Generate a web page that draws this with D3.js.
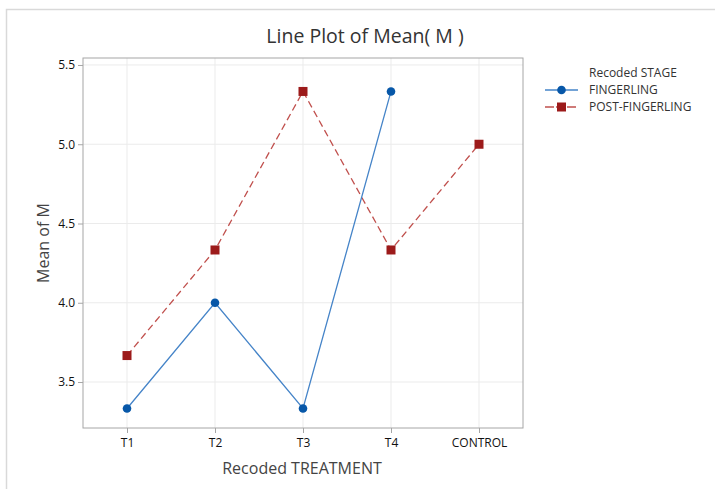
<!DOCTYPE html>
<html>
<head>
<meta charset="utf-8">
<script src="https://cdn.jsdelivr.net/npm/d3@7"></script>
<style>
  body { margin: 0; background: #fff; }
  text { font-family: "Open Sans", "Noto Sans", sans-serif; }
</style>
</head>
<body>
<div id="chart"></div>
<script>
const treatments = ['T1', 'T2', 'T3', 'T4', 'CONTROL'];
const yTicks = [3.5, 4.0, 4.5, 5.0, 5.5];
const fingerling = [3.333, 4.0, 3.333, 5.333, null];
const postFingerling = [3.667, 4.333, 5.333, 4.333, 5.0];

const width = 715, height = 489;
const margin = { top: 58, right: 192, bottom: 61, left: 83 };

const svg = d3.select('#chart').append('svg')
  .attr('width', width)
  .attr('height', height);

// outer frame
svg.append('path')
  .attr('d', `M6.5,${height}V9.5H${width}`)
  .attr('fill', 'none')
  .attr('stroke', '#d9d9d9')
  .attr('stroke-width', 1.5);

const x = d3.scalePoint()
  .domain(treatments)
  .range([margin.left, width - margin.right])
  .padding(0.5);

const y = d3.scaleLinear()
  .domain([3.21, 5.544])
  .range([height - margin.bottom, margin.top]);

const g = svg.append('g');

// grid
g.selectAll('.hgrid').data(yTicks).join('line')
  .attr('x1', margin.left).attr('x2', width - margin.right)
  .attr('y1', d => y(d)).attr('y2', d => y(d))
  .attr('stroke', '#ebebeb').attr('stroke-width', 1);
g.selectAll('.vgrid').data(treatments).join('line')
  .attr('y1', margin.top).attr('y2', height - margin.bottom)
  .attr('x1', d => x(d)).attr('x2', d => x(d))
  .attr('stroke', '#ebebeb').attr('stroke-width', 1);

// frame of the plot area
g.append('rect')
  .attr('x', margin.left).attr('y', margin.top)
  .attr('width', width - margin.left - margin.right)
  .attr('height', height - margin.top - margin.bottom)
  .attr('fill', 'none').attr('stroke', '#a6a6a6');

// axes
const xAxis = svg.append('g')
  .attr('transform', `translate(0,${height - margin.bottom})`)
  .call(d3.axisBottom(x).tickSize(5).tickPadding(5));
const yAxis = svg.append('g')
  .attr('transform', `translate(${margin.left},0)`)
  .call(d3.axisLeft(y).tickValues(yTicks).tickFormat(d3.format('.1f')).tickSize(5).tickPadding(3));
[xAxis, yAxis].forEach(a => {
  a.select('.domain').remove();
  a.selectAll('line').attr('stroke', '#a6a6a6');
  a.selectAll('text').attr('fill', '#111').style('font-size', '12px')
    .style('font-weight', 500)
    .style('font-family', '"Open Sans", "Noto Sans", sans-serif');
});

// series
const line = d3.line()
  .x(d => x(d[0]))
  .y(d => y(d[1]));

const fData = treatments.map((t, i) => [t, fingerling[i]]).filter(d => d[1] != null);
const pData = treatments.map((t, i) => [t, postFingerling[i]]);

g.append('path').datum(pData)
  .attr('d', line)
  .attr('fill', 'none')
  .attr('stroke', '#c0504d')
  .attr('stroke-width', 1.3)
  .attr('stroke-dasharray', '7,4');
g.append('path').datum(fData)
  .attr('d', line)
  .attr('fill', 'none')
  .attr('stroke', '#4584c8')
  .attr('stroke-width', 1.3);

g.selectAll('.fdot').data(fData).join('circle')
  .attr('cx', d => x(d[0])).attr('cy', d => y(d[1]))
  .attr('r', 4.3).attr('fill', '#0757a8');
g.selectAll('.pdot').data(pData).join('rect')
  .attr('x', d => x(d[0]) - 4.5).attr('y', d => y(d[1]) - 4.5)
  .attr('width', 9).attr('height', 9).attr('fill', '#9c1a1a');

// title and axis labels
svg.append('text')
  .attr('x', 365).attr('y', 43)
  .attr('text-anchor', 'middle')
  .attr('fill', '#333')
  .style('font-size', '19.5px')
  .text('Line Plot of Mean( M )');
svg.append('text')
  .attr('x', 302).attr('y', 474)
  .attr('text-anchor', 'middle')
  .attr('fill', '#444')
  .style('font-size', '16px')
  .text('Recoded TREATMENT');
svg.append('text')
  .attr('transform', `translate(49,${(margin.top + height - margin.bottom) / 2}) rotate(-90)`)
  .attr('text-anchor', 'middle')
  .attr('fill', '#444')
  .style('font-size', '16px')
  .text('Mean of M');

// legend
const legend = svg.append('g').attr('transform', 'translate(545,0)');
legend.append('text').attr('x', 44).attr('y', 77)
  .attr('fill', '#333').style('font-size', '12px').text('Recoded STAGE');
const items = [
  { name: 'FINGERLING', color: '#4584c8', mark: '#0757a8', shape: 'circle', dash: null },
  { name: 'POST-FINGERLING', color: '#c0504d', mark: '#9c1a1a', shape: 'square', dash: '9,2' }
];
items.forEach((it, i) => {
  const yy = 90 + i * 17;
  legend.append('line').attr('x1', 0).attr('x2', 33).attr('y1', yy).attr('y2', yy)
    .attr('stroke', it.color).attr('stroke-width', 1.3)
    .attr('stroke-dasharray', it.dash);
  if (it.shape === 'circle') {
    legend.append('circle').attr('cx', 16.5).attr('cy', yy).attr('r', 4.3).attr('fill', it.mark);
  } else {
    legend.append('rect').attr('x', 12).attr('y', yy - 4.5).attr('width', 9).attr('height', 9).attr('fill', it.mark);
  }
  legend.append('text').attr('x', 44).attr('y', yy + 4)
    .attr('fill', '#333').style('font-size', '12px').text(it.name);
});
</script>
</body>
</html>
